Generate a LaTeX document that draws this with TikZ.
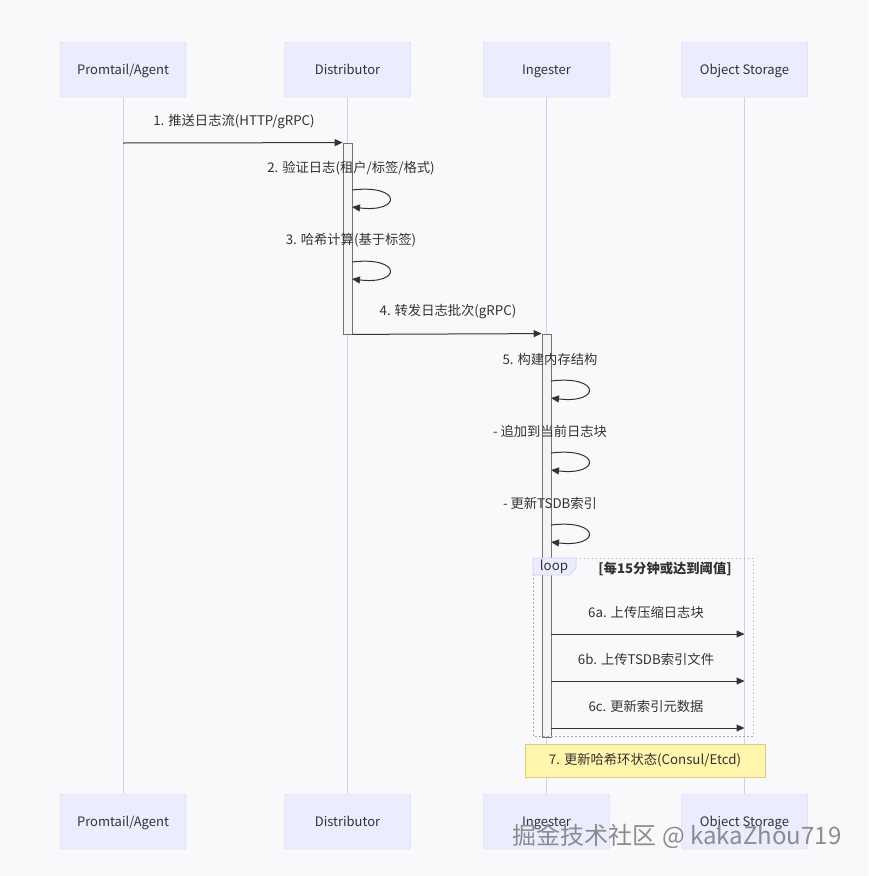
\documentclass[tikz,border=0pt]{standalone}
\usepackage{fontspec}
\setmainfont{Noto Sans CJK SC}
\usepackage{tikz}
\usetikzlibrary{positioning,arrows.meta}

\definecolor{bgc}{HTML}{F9F9FB}
\definecolor{actorfill}{HTML}{ECECFF}
\definecolor{actorline}{HTML}{D3CDF3}
\definecolor{textc}{HTML}{333333}
\definecolor{actfill}{HTML}{F4F4F4}
\definecolor{notefill}{HTML}{FFF5AD}
\definecolor{noteline}{HTML}{D8D07A}

\begin{document}
\begin{tikzpicture}[x=1pt, y=-1pt,
    actor/.style={draw=actorline, fill=actorfill, rounded corners=2pt, minimum width=126pt,
        minimum height=55pt, text=textc, text height=2.1ex, text depth=.2ex, font=\fontsize{13}{15}\selectfont},
    life/.style={draw=actorline, line width=0.9pt},
    actbar/.style={draw=black!55, fill=actfill, line width=0.8pt, minimum width=9pt, inner sep=0pt},
    msg/.style={draw=textc, line width=1pt, -{Triangle[length=8pt,width=7pt]}},
    mlabel/.style={text=textc, font=\fontsize{13.3}{15}\selectfont},
    note/.style={draw=noteline, fill=notefill, minimum width=240pt, minimum height=33pt,
        text=textc, font=\fontsize{13.3}{15}\selectfont}]

    \fill[bgc] (0,0) rectangle (868,876);
    \useasboundingbox (0,0) rectangle (868,876);

    % 参与者和生命线
    \foreach \id/\x/\txt in {pa/123/{Promtail/Agent}, dis/347.5/Distributor, ing/546.5/Ingester, os/744.5/{Object Storage}} {
        \node[actor] (\id-top) at (\x,69.5) {\txt};
        \node[actor] (\id-bot) at (\x,821.5) {\txt};
        \draw[life] (\id-top) -- (\id-bot);
    }

    % 激活条
    \node[actbar, minimum height=191pt] (dact) at (347.5,238.5) {};
    \node[actbar, minimum height=403pt] (iact) at (546.5,535.5) {};

    % 1. 推送
    \coordinate (m1) at (123,143);
    \draw[msg] (m1) -- (dact.north west);
    \node[mlabel] (l1) at (234,122) {1. 推送日志流(HTTP/gRPC)};

    % 自调用
    \foreach \n/\x/\y/\txt in {s2/352/190/{2. 验证日志(租户/标签/格式)}, s3/352/262/{3. 哈希计算(基于标签)},
        s5/551/381/{5. 构建内存结构}, s5b/551/453/{- 追加到当前日志块}, s5c/551/525/{- 更新TSDB索引}} {
        \coordinate (\n-a) at (\x,\y);
        \coordinate (\n-b) at (\x,\y+17);
        \draw[msg] (\n-a) .. controls +(50,-6) and +(50,6) .. (\n-b);
        \node[mlabel] (\n-l) at (\x-1,\y-22) {\txt};
    }

    % 4. 转发
    \draw[msg] (dact.south east) -- (iact.north west);
    \node[mlabel] (l4) at (448,312) {4. 转发日志批次(gRPC)};

    % loop 框
    \draw[draw=black!35, line width=0.8pt, dash pattern=on 1.5pt off 2.5pt] (533,558) rectangle (753,736);
    \filldraw[draw=actorline, fill=actorfill, line width=0.8pt] (533,558) -- (576,558) -- (576,568) -- (569,575) -- (533,575) -- cycle;
    \node[mlabel] (looplab) at (554,567) {loop};
    \node[mlabel, font=\fontsize{13.3}{15}\bfseries] (cond) at (665,569) {[每15分钟或达到阈值]};

    % 6. 上传
    \foreach \n/\y/\txt in {a/634/{6a. 上传压缩日志块}, b/681/{6b. 上传TSDB索引文件}, c/728/{6c. 更新索引元数据}} {
        \coordinate (u\n-s) at (iact.east |- 0,\y);
        \coordinate (u\n-e) at (os-top.south |- 0,\y);
        \draw[msg] (u\n-s) -- (u\n-e);
        \node[mlabel] (u\n-l) at (646,\y-22) {\txt};
    }

    % 7. 注释
    \node[note] (n7) at (645,760.5) {7. 更新哈希环状态(Consul/Etcd)};

    \node[text=black!45, font=\fontsize{24}{28}\selectfont, anchor=east] (wm) at (845,836) {掘金技术社区 @ kakaZhou719};

\end{tikzpicture}
\end{document}
